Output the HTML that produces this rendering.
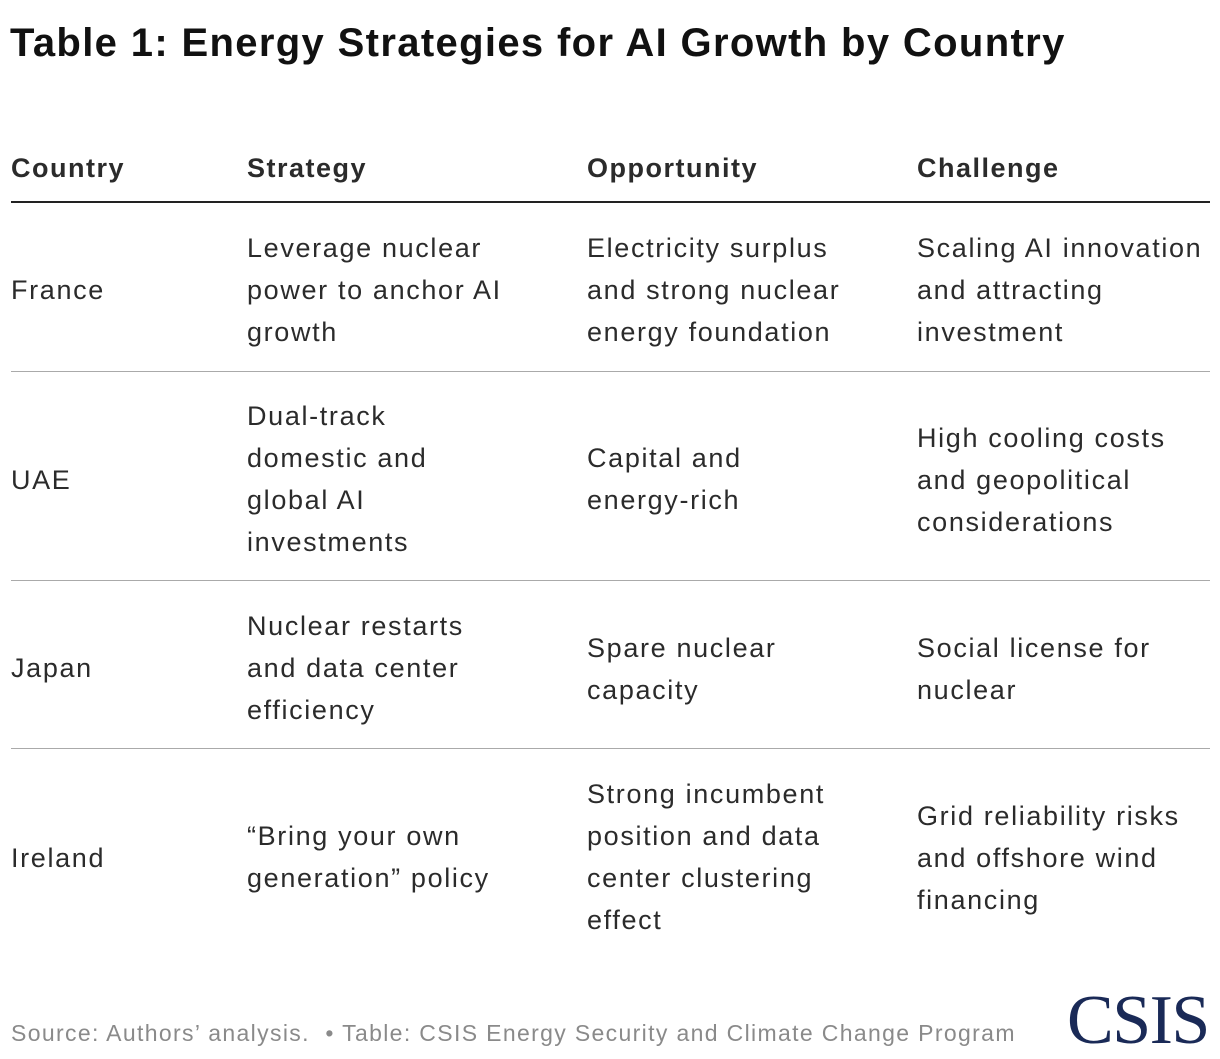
<!DOCTYPE html>
<html><head><meta charset="utf-8"><style>
html,body{margin:0;padding:0;background:#fff;}
body{width:1220px;height:1058px;position:relative;overflow:hidden;font-family:"Liberation Sans",sans-serif;color:#2b2b2b;}
.t{position:absolute;font-size:27px;line-height:42px;letter-spacing:1.65px;white-space:nowrap;}
.h{position:absolute;font-size:27px;font-weight:bold;line-height:42px;top:147px;letter-spacing:1.5px;}
.rule{position:absolute;left:11px;width:1199px;height:1px;background:#aaa;}
</style></head><body>
<div style="position:absolute;left:10px;top:21px;font-size:40px;font-weight:bold;color:#111;letter-spacing:1.35px;">Table 1: Energy Strategies for AI Growth by Country</div>

<div class="h" style="left:11px">Country</div>
<div class="h" style="left:247px">Strategy</div>
<div class="h" style="left:587px">Opportunity</div>
<div class="h" style="left:917px">Challenge</div>
<div style="position:absolute;left:11px;top:201px;width:1199px;height:2px;background:#222;"></div>

<div class="t" style="left:11px;top:269px">France</div>
<div class="t" style="left:247px;top:227px">Leverage nuclear<br>power to anchor AI<br>growth</div>
<div class="t" style="left:587px;top:227px">Electricity surplus<br>and strong nuclear<br>energy foundation</div>
<div class="t" style="left:917px;top:227px">Scaling AI innovation<br>and attracting<br>investment</div>
<div class="rule" style="top:371px"></div>

<div class="t" style="left:11px;top:459px">UAE</div>
<div class="t" style="left:247px;top:395px">Dual-track<br>domestic and<br>global AI<br>investments</div>
<div class="t" style="left:587px;top:437px">Capital and<br>energy-rich</div>
<div class="t" style="left:917px;top:417px">High cooling costs<br>and geopolitical<br>considerations</div>
<div class="rule" style="top:580px"></div>

<div class="t" style="left:11px;top:647px">Japan</div>
<div class="t" style="left:247px;top:605px">Nuclear restarts<br>and data center<br>efficiency</div>
<div class="t" style="left:587px;top:627px">Spare nuclear<br>capacity</div>
<div class="t" style="left:917px;top:627px">Social license for<br>nuclear</div>
<div class="rule" style="top:748px"></div>

<div class="t" style="left:11px;top:837px">Ireland</div>
<div class="t" style="left:247px;top:815px">“Bring your own<br>generation” policy</div>
<div class="t" style="left:587px;top:773px">Strong incumbent<br>position and data<br>center clustering<br>effect</div>
<div class="t" style="left:917px;top:795px">Grid reliability risks<br>and offshore wind<br>financing</div>

<div style="position:absolute;left:11px;top:1020px;font-size:23px;color:#8a8a8a;letter-spacing:1.35px;white-space:nowrap;">Source: Authors’ analysis.&nbsp; • Table: CSIS Energy Security and Climate Change Program</div>
<div style="position:absolute;left:1067px;top:985px;font-family:'Liberation Serif',serif;font-size:70px;line-height:72px;color:#1a2a57;letter-spacing:-1.5px;">CSIS</div>
</body></html>
